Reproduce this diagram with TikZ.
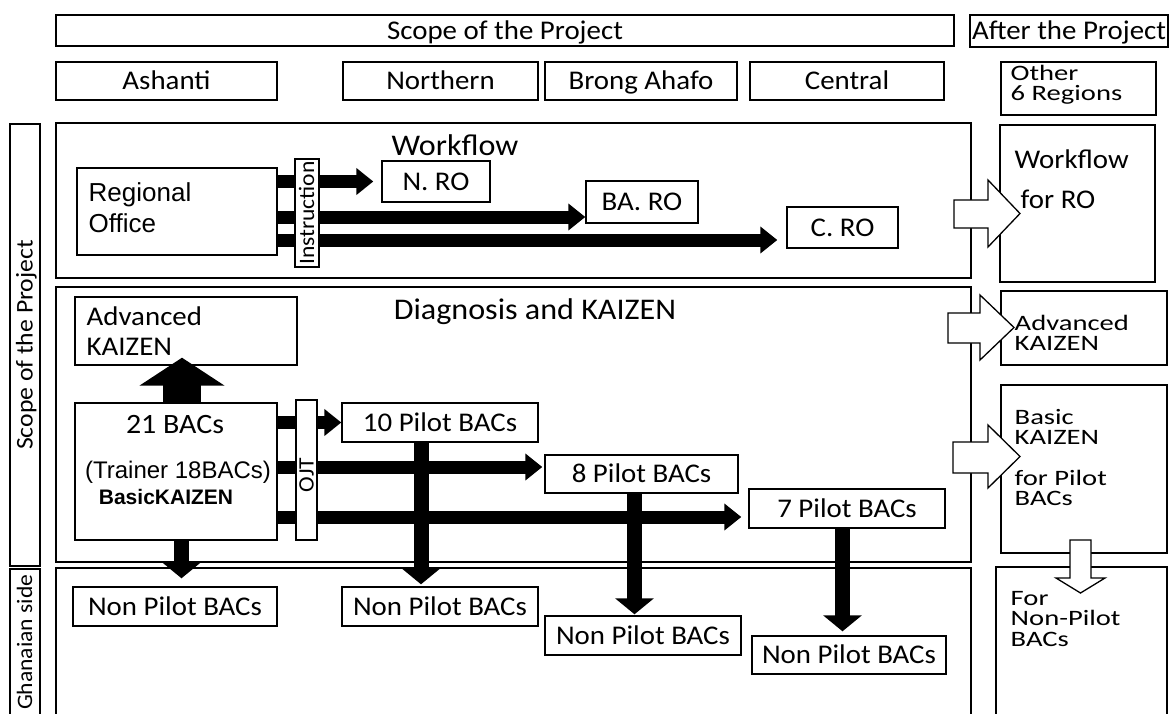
\documentclass[tikz,border=0pt]{standalone}
\usepackage{fontspec}
\setmainfont{Carlito}[FakeStretch=1.07]
\newfontfamily\widefont{Carlito}[FakeStretch=1.3]
\newfontfamily\arialfont{Liberation Sans}
\usetikzlibrary{arrows.meta}
\newcommand\fsz[1]{\fontsize{#1}{#1}\selectfont}

\begin{document}
\begin{tikzpicture}[x=1pt, y=-1pt, line width=1.4pt,
  box/.style={draw, fill=white, inner sep=0pt, font=\fsz{27}, text height=17pt, text depth=0pt},
  txt/.style={inner sep=0pt, font=\fsz{27}, text height=17pt, text depth=0pt},
  ttl/.style={inner sep=0pt, font=\fsz{30}, text height=19pt, text depth=0pt},
  atxt/.style={inner sep=0pt, font=\arialfont\fsz{24}, text height=17pt, text depth=0pt},
  vtxt/.style={inner sep=0pt, font=\fsz{24}, text height=15pt, text depth=0pt, rotate=90},
  stack/.style={inner sep=0pt, anchor=north west, align=left},
  rtxt/.style={stack, font=\widefont\fontsize{22}{20.5}\selectfont},
  harrow/.style={line width=13pt, -{Triangle[width=26pt,length=17pt]}},
  varrow/.style={line width=15pt, -{Triangle[width=38pt,length=16pt]}},
  uparrow/.style={line width=38pt, -{Triangle[width=84pt,length=28pt]}},
  hollow/.style={draw, fill=white, line width=1.3pt, line join=miter},
]
\useasboundingbox (0,0) rectangle (1170,713);

% ---- header rows ----
\node[box, minimum width=898pt, minimum height=31pt] (scope) at (505,30.5) {Scope of the Project};
\node[box, minimum width=198pt, minimum height=32pt] (after) at (1069,31) {After the Project};
\node[box, minimum width=221pt, minimum height=38pt] (ash) at (166.5,81) {Ashanti};
\node[box, minimum width=195pt, minimum height=38pt] (nor) at (440.5,81) {Northern};
\node[box, minimum width=192pt, minimum height=38pt] (bra) at (641,81) {Brong Ahafo};
\node[box, minimum width=194pt, minimum height=38pt] (cen) at (847,81) {Central};
\node[box, minimum width=155pt, minimum height=53pt] (oth) at (1078.5,88.5) {};
\node[rtxt] (othT) at (1010,64.5) {Other\\6 Regions};

% ---- side labels ----
\node[box, minimum width=30pt, minimum height=442pt] (vscope) at (25,345) {};
\node[vtxt] (vscopeT) at (25,345) {Scope of the Project};
\node[box, minimum width=30pt, minimum height=151pt] (vgha) at (25,644.5) {};
\node[vtxt, font=\fsz{22}, text height=14pt, anchor=east] (vghaT) at (25,574) {Ghanaian side};

% ---- workflow panel ----
\node[box, minimum width=915pt, minimum height=155pt] (wfp) at (513.5,200.5) {};
\node[ttl] (wft) at (455,146) {Workflow};
\node[box, minimum width=200pt, minimum height=87pt] (ro) at (177,211.5) {};
\node[atxt, font=\arialfont\fsz{26}, text height=18.5pt, anchor=west] (roA) at (88,192) {Regional};
\node[atxt, font=\arialfont\fsz{26}, text height=18.5pt, anchor=west] (roB) at (88,223) {Office};
\node[box, minimum width=108pt, minimum height=41pt] (nro) at (436,181.5) {N. RO};
\node[box, minimum width=112pt, minimum height=42pt] (bro) at (642,202) {BA. RO};
\node[box, minimum width=111pt, minimum height=41pt] (cro) at (842.5,227.5) {C. RO};
\coordinate (wy2) at (0,217);
\coordinate (wy3) at (0,240);
\draw[harrow, shorten >=8pt] (ro.east |- nro.west) -- (nro.west);
\draw[harrow] (ro.east |- wy2) -- (bro.west |- wy2);
\draw[harrow, shorten >=9pt] (ro.east |- wy3) -- (cro.west |- wy3);
\node[box, minimum width=24pt, minimum height=108pt] (instr) at (307,213) {};
\node[vtxt, font=\fsz{22}, text height=14pt] (instrT) at (307,213) {Instruction};

% ---- workflow after the project ----
\node[box, minimum width=155pt, minimum height=157pt] (wfr) at (1077.5,203.5) {};
\draw[hollow] (954,200) -- (988,200) -- (988,180) -- (1020,213.5) -- (988,247) -- (988,228) -- (954,228) -- cycle;
\node[txt, anchor=west] (wfrA) at (1014,160) {Workflow};
\node[txt, anchor=west] (wfrB) at (1020,200) {for RO};

% ---- diagnosis panel ----
\node[box, minimum width=915pt, minimum height=275pt] (dgp) at (513.5,424.5) {};
\node[ttl] (dgt) at (535,310) {Diagnosis and KAIZEN};
\node[box, minimum width=222pt, minimum height=68pt] (adv) at (186,331) {};
\node[txt, anchor=west] (advA) at (86,317) {Advanced};
\node[txt, anchor=west] (advB) at (86,347) {KAIZEN};
\node[box, minimum width=202pt, minimum height=137pt] (bac) at (176,471.5) {};
\node[txt, font=\fsz{28}, text height=17.7pt] (bacA) at (175,425) {21 BACs};
\node[atxt] (bacB) at (178,470) {(Trainer 18BACs)};
\node[atxt, font=\arialfont\bfseries\fsz{21}, text height=15pt] (bacC) at (166,497) {BasicKAIZEN};
\coordinate (ux) at (182,0);
\draw[uparrow, shorten >=-8pt] (bac.north -| ux) -- (adv.south -| ux);

\node[box, minimum width=196pt, minimum height=39pt] (p10) at (440,422.5) {10 Pilot BACs};
\node[box, minimum width=193pt, minimum height=38pt] (p8) at (641.5,474) {8 Pilot BACs};
\node[box, minimum width=196pt, minimum height=39pt] (p7) at (847,508.5) {7 Pilot BACs};
\coordinate (dy2) at (0,467);
\coordinate (dy3) at (0,517);
\draw[harrow] (bac.east |- p10.west) -- (p10.west);
\draw[harrow, shorten >=2pt] (bac.east |- dy2) -- (p8.west |- dy2);
\draw[harrow, shorten >=7pt] (bac.east |- dy3) -- (p7.west |- dy3);
\node[box, minimum width=21pt, minimum height=140pt] (ojt) at (306.5,470) {};
\node[vtxt, font=\fsz{22}, text height=14pt] (ojtT) at (306.5,475) {OJT};

% ---- diagnosis after the project ----
\node[box, minimum width=166pt, minimum height=74pt] (advr) at (1084,328) {};
\draw[hollow] (948,313) -- (980,313) -- (980,295) -- (1014,327.5) -- (980,360) -- (980,343) -- (948,343) -- cycle;
\node[rtxt] (advrT) at (1014,314.5) {Advanced\\KAIZEN};
\node[box, minimum width=166pt, minimum height=168pt] (basr) at (1084,469) {};
\draw[hollow] (953,442) -- (988,442) -- (988,425) -- (1020,456.5) -- (988,488) -- (988,473) -- (953,473) -- cycle;
\node[rtxt] (basrA) at (1014,408.5) {Basic\\KAIZEN};
\node[rtxt] (basrB) at (1014,469.5) {for Pilot\\BACs};

% ---- Ghanaian side panel ----
\node[box, minimum width=915pt, minimum height=152pt] (ghp) at (513.5,644) {};
\node[box, minimum width=204pt, minimum height=39pt] (np1) at (175,606.5) {Non Pilot BACs};
\node[box, minimum width=196pt, minimum height=39pt] (np2) at (440,606.5) {Non Pilot BACs};
\node[box, minimum width=196pt, minimum height=39pt] (np3) at (643,635.5) {Non Pilot BACs};
\node[box, minimum width=194pt, minimum height=38pt] (np4) at (849,655) {Non Pilot BACs};
\coordinate (vx1) at (181.5,0);
\coordinate (vx2) at (421,0);
\coordinate (vx3) at (634.5,0);
\coordinate (vx4) at (842.5,0);
\draw[varrow, shorten >=8pt] (bac.south -| vx1) -- (np1.north -| vx1);
\draw[varrow, shorten >=2pt] (p10.south -| vx2) -- (np2.north -| vx2);
\draw[varrow, shorten >=1pt] (p8.south -| vx3) -- (np3.north -| vx3);
\draw[varrow, shorten >=4pt] (p7.south -| vx4) -- (np4.north -| vx4);

% ---- Ghanaian side after the project ----
\node[box, minimum width=171pt, minimum height=153pt] (fnp) at (1081.5,643.5) {};
\draw[hollow] (1070,540) -- (1091,540) -- (1091,578) -- (1105,578) -- (1080.5,593) -- (1056,578) -- (1070,578) -- cycle;
\node[rtxt] (fnpT) at (1010,590.5) {For\\Non-Pilot\\BACs};
\end{tikzpicture}
\end{document}
